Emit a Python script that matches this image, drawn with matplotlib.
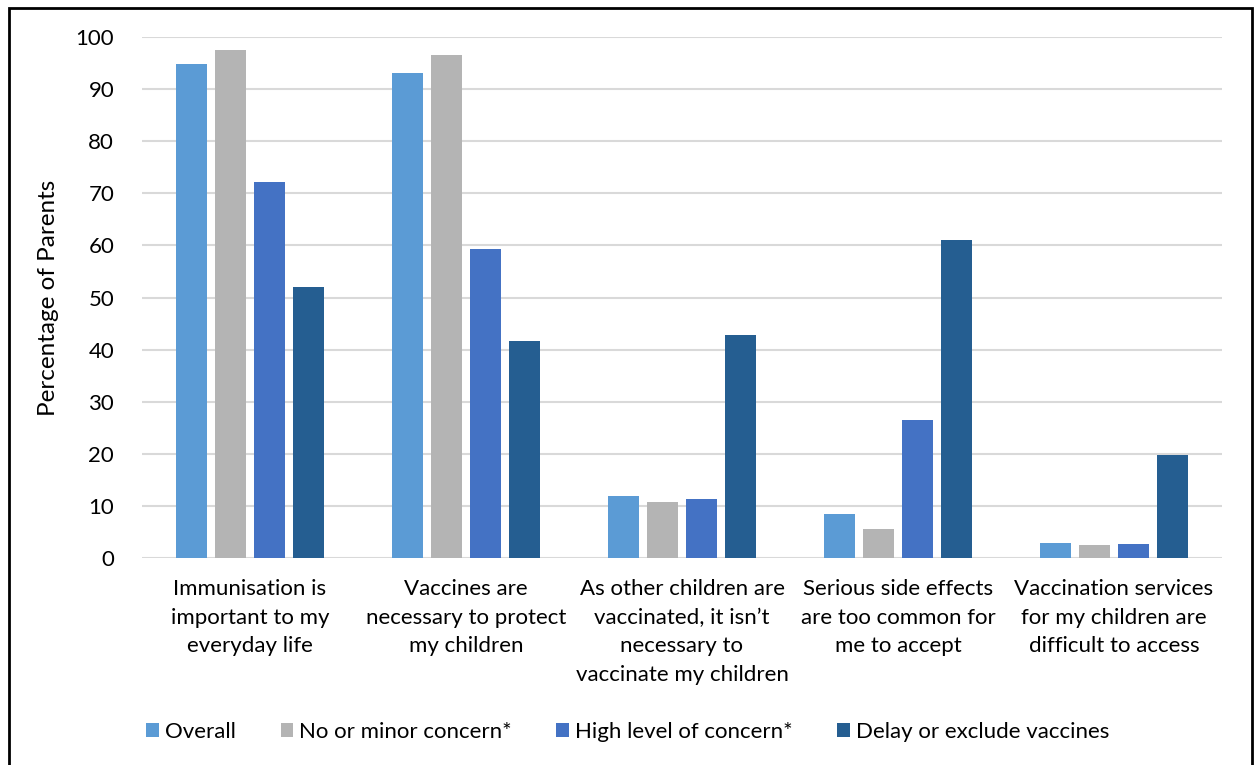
import numpy as np
from matplotlib import pyplot as plt
from matplotlib.patches import Rectangle

# categories and series
categories = [
    "Immunisation is\nimportant to my\neveryday life",
    "Vaccines are\nnecessary to protect\nmy children",
    "As other children are\nvaccinated, it isn\u2019t\nnecessary to\nvaccinate my children",
    "Serious side effects\nare too common for\nme to accept",
    "Vaccination services\nfor my children are\ndifficult to access",
]
series_names = ["Overall", "No or minor concern*", "High level of concern*", "Delay or exclude vaccines"]
overall = [94.8, 93.1, 11.9, 8.4, 2.9]
minor = [97.5, 96.5, 10.7, 5.5, 2.4]
high = [72.2, 59.3, 11.3, 26.5, 2.6]
delay = [52.0, 41.7, 42.8, 61.0, 19.8]
colors = ["#5B9BD5", "#B4B4B4", "#4472C4", "#255E91"]

plt.rcParams['font.family'] = ['Lato', 'DejaVu Sans']

fig = plt.figure(dpi=100, figsize=(12.56, 7.65))
ax = fig.add_axes([142/1256, 1 - 558/765, 1080/1256, 521/765])

x = np.arange(len(categories))
width = 0.145
step = 0.18
for i, vals in enumerate([overall, minor, high, delay]):
    ax.bar(x + (i - 1.5) * step, vals, width, color=colors[i], label=series_names[i], zorder=3)

ax.set_xlim(-0.5, len(categories) - 0.5)
ax.set_ylim(0, 100)
ax.set_yticks(range(0, 101, 10))
ax.set_xticks(x)
ax.set_xticklabels(categories, fontsize=16, linespacing=1.55)
ax.tick_params(axis='y', labelsize=16, length=0, pad=20)
ax.tick_params(axis='x', length=0, pad=15)
ax.yaxis.grid(True, color='#D9D9D9', linewidth=1.5, zorder=0)
for s in ax.spines.values():
    s.set_visible(False)
ax.set_ylabel("Percentage of Parents", fontsize=17.5, labelpad=12)

fig.legend(loc='center', bbox_to_anchor=(0.5, 1 - 732/765), ncol=4, frameon=False,
           fontsize=16, handlelength=0.55, handleheight=0.55, handletextpad=0.3,
           columnspacing=2.0)

# outer frame around the chart
fig.patches.append(Rectangle((9/1256, -0.05), 1243/1256, 1.05 - 8/765, transform=fig.transFigure,
                             fill=False, edgecolor='black', linewidth=2))

plt.savefig('out.png')
